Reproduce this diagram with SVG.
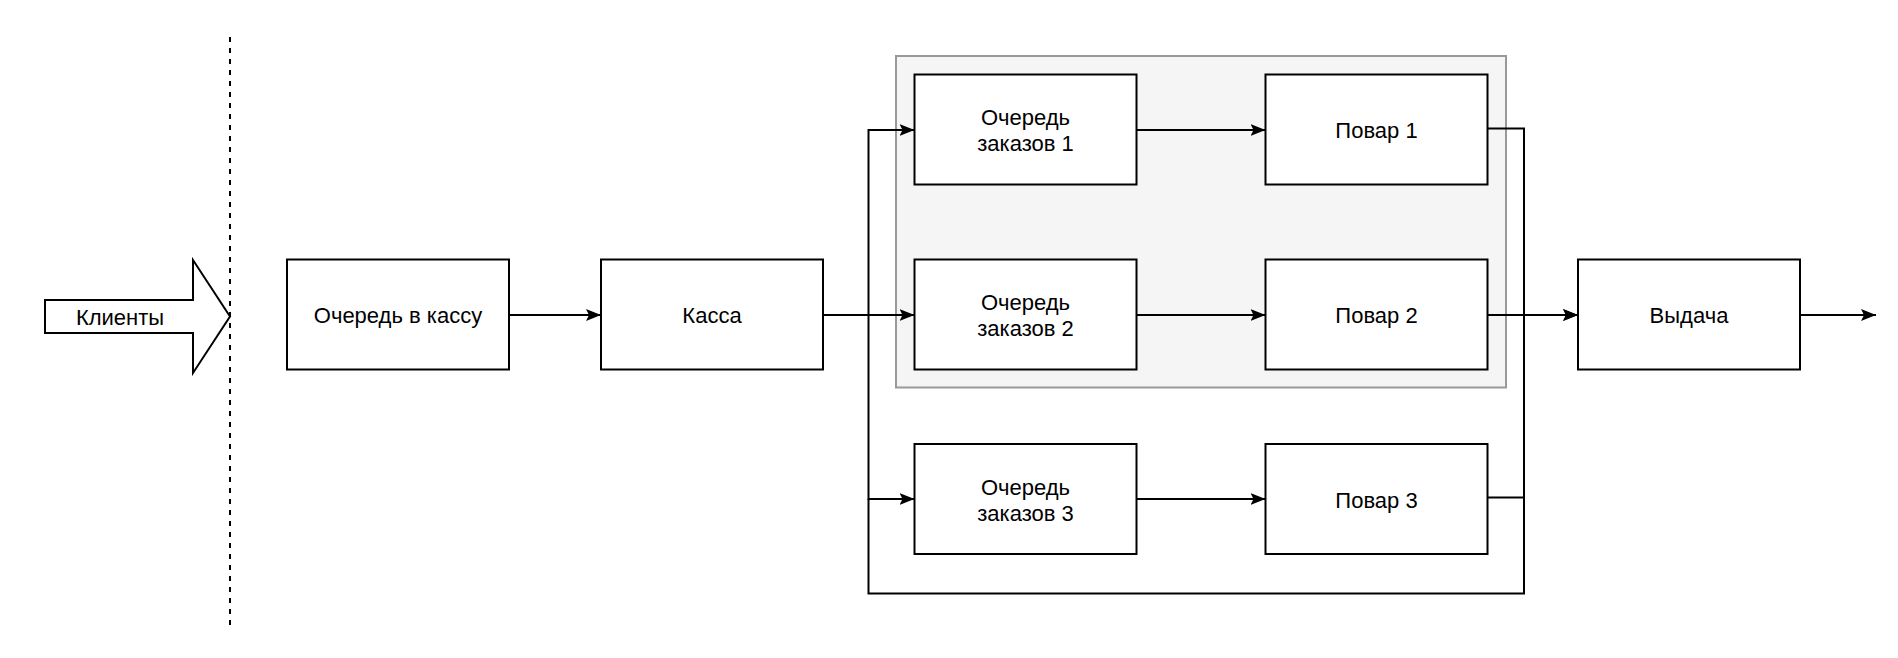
<svg xmlns="http://www.w3.org/2000/svg" width="1898" height="658" viewBox="0 0 1898 658">
<style>
.box{fill:#ffffff;stroke:#000000;stroke-width:2}
.lbl{font-family:"Liberation Sans",Arial,sans-serif;font-size:22px;fill:#000000;text-anchor:middle}
.edge{fill:none;stroke:#000000;stroke-width:2}
</style>
<defs>
<marker id="arr" markerUnits="userSpaceOnUse" markerWidth="16" markerHeight="12" refX="15" refY="6" orient="auto">
<path d="M0,0 L15,6 L0,12 L3,6 Z" fill="#000000"/>
</marker>
</defs>
<rect width="1898" height="658" fill="#ffffff"/>
<line x1="230" y1="37" x2="230" y2="628" stroke="#000000" stroke-width="2" stroke-dasharray="5,6"/>
<g id="group-kitchen">
<rect x="896" y="56" width="610" height="331.5" fill="#f5f5f5" stroke="#999999" stroke-width="2"/>
</g>
<g id="clients">
<path d="M45,300 L193,300 L193,260 L230,316.5 L193,373 L193,333 L45,333 Z" fill="#ffffff" stroke="#000000" stroke-width="2"/>
<text class="lbl" x="120" y="324.5">Клиенты</text>
</g>
<g id="queue-cash">
<rect class="box" x="287" y="259.5" width="222" height="110"/>
<text class="lbl" x="398" y="323">Очередь в кассу</text>
</g>
<g id="cash">
<rect class="box" x="601" y="259.5" width="222" height="110"/>
<text class="lbl" x="712" y="323">Касса</text>
</g>
<g id="oq1">
<rect class="box" x="914.5" y="74.5" width="222" height="110"/>
<text class="lbl" x="1025.5" y="125">Очередь</text>
<text class="lbl" x="1025.5" y="151">заказов 1</text>
</g>
<g id="oq2">
<rect class="box" x="914.5" y="259.5" width="222" height="110"/>
<text class="lbl" x="1025.5" y="310">Очередь</text>
<text class="lbl" x="1025.5" y="336">заказов 2</text>
</g>
<g id="oq3">
<rect class="box" x="914.5" y="444" width="222" height="110"/>
<text class="lbl" x="1025.5" y="494.5">Очередь</text>
<text class="lbl" x="1025.5" y="520.5">заказов 3</text>
</g>
<g id="cook1">
<rect class="box" x="1265.5" y="74.5" width="222" height="110"/>
<text class="lbl" x="1376.5" y="138">Повар 1</text>
</g>
<g id="cook2">
<rect class="box" x="1265.5" y="259.5" width="222" height="110"/>
<text class="lbl" x="1376.5" y="323">Повар 2</text>
</g>
<g id="cook3">
<rect class="box" x="1265.5" y="444" width="222" height="110"/>
<text class="lbl" x="1376.5" y="507.5">Повар 3</text>
</g>
<g id="delivery">
<rect class="box" x="1578" y="259.5" width="222" height="110"/>
<text class="lbl" x="1689" y="323">Выдача</text>
</g>
<g id="connectors">
<path class="edge" d="M509,315 L601,315" marker-end="url(#arr)"/>
<path class="edge" d="M823,315 L868.5,315 L868.5,130 L914.5,130" marker-end="url(#arr)"/>
<path class="edge" d="M823,315 L914.5,315" marker-end="url(#arr)"/>
<path class="edge" d="M868.5,315 L868.5,499 L914.5,499" marker-end="url(#arr)"/>
<path class="edge" d="M868.5,499 L868.5,593.5 L1524,593.5 L1524,315"/>
<path class="edge" d="M1136.5,130 L1265.5,130" marker-end="url(#arr)"/>
<path class="edge" d="M1136.5,315 L1265.5,315" marker-end="url(#arr)"/>
<path class="edge" d="M1136.5,499 L1265.5,499" marker-end="url(#arr)"/>
<path class="edge" d="M1487.5,128.5 L1524,128.5 L1524,315 L1578,315" marker-end="url(#arr)"/>
<path class="edge" d="M1487.5,315 L1578,315" marker-end="url(#arr)"/>
<path class="edge" d="M1487.5,497.5 L1524,497.5 L1524,315"/>
<path class="edge" d="M1800,315 L1876,315" marker-end="url(#arr)"/>
</g>
</svg>
